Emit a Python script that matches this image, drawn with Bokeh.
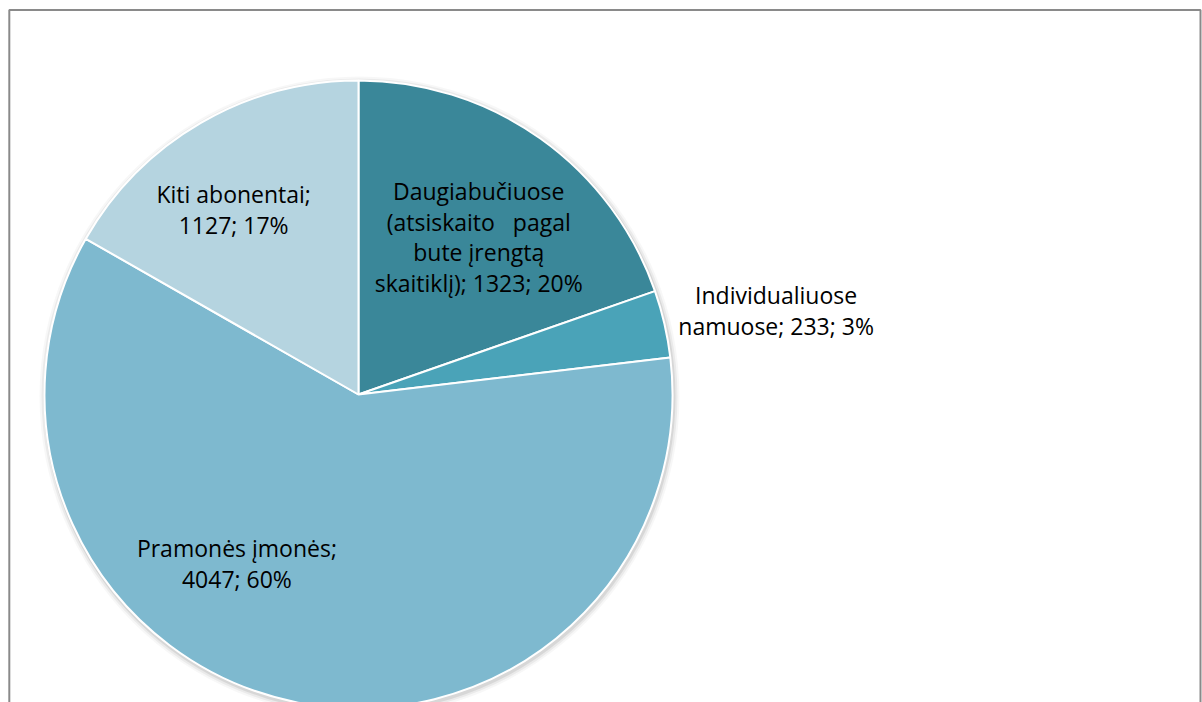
import math
from bokeh.plotting import figure
from bokeh.models import Range1d, ColumnDataSource
from bokeh.core.properties import value
from bokeh.embed import file_html
from bokeh.resources import INLINE

# ---- data ----
categories = ["Daugiabučiuose\n(atsiskaito\u00a0\u00a0\u00a0pagal\nbute įrengtą\nskaitiklį)",
              "Individualiuose\nnamuose",
              "Pramonės įmonės",
              "Kiti abonentai"]
values = [1323, 233, 4047, 1127]
colors = ["#3A8799", "#4AA3B8", "#7EB9CF", "#B5D4E0"]

# ---- layout (label placement, not data) ----
label_sep = [" ", " ", "\n", "\n"]
label_angle_shift = [2.0, 1.6, 24.3, -3.9]   # degrees
label_radius = [198, 426, 208, 223]           # px

W, H = 1202, 702
cx, cy, R = 358, 308, 314

p = figure(width=W, height=H, x_range=Range1d(0, W), y_range=Range1d(0, H),
           output_backend="svg", toolbar_location=None, min_border=0,
           x_axis_type=None, y_axis_type=None)
p.grid.visible = False
p.outline_line_color = None
p.background_fill_color = "white"
p.border_fill_color = "white"

total = sum(values)
fr = [v / total for v in values]
cum = [0.0]
for f in fr:
    cum.append(cum[-1] + f)
start = [math.pi / 2 - 2 * math.pi * cum[i] for i in range(len(values))]
end = [math.pi / 2 - 2 * math.pi * cum[i + 1] for i in range(len(values))]

# soft shadow
for rr, a in [(320, 0.03), (318, 0.05), (316, 0.08)]:
    p.circle(x=[cx + 1], y=[cy - 2], radius=rr, fill_color="black", fill_alpha=a,
             line_color=None)

src = ColumnDataSource(dict(start=start, end=end, color=colors))
p.wedge(x=cx, y=cy, radius=R, start_angle="start", end_angle="end",
        direction="clock", fill_color="color", line_color="white",
        line_width=2, source=src)

# labels
lx, ly, lt = [], [], []
lh = 30.5
for i, (c, v) in enumerate(zip(categories, values)):
    pct = round(100 * v / total)
    label = f"{c};{label_sep[i]}{v}; {pct}%"
    lines = label.split("\n")
    mid = (cum[i] + cum[i + 1]) / 2 * 360 + label_angle_shift[i]
    a = math.radians(mid)
    bx = cx + label_radius[i] * math.sin(a)
    by = cy + label_radius[i] * math.cos(a)
    n = len(lines)
    for j, t in enumerate(lines):
        lx.append(bx)
        ly.append(by + (n - 1) / 2 * lh - j * lh)
        lt.append(t)

p.text(x=lx, y=ly, text=lt, text_align="center", text_baseline="middle",
       text_font=value("Open Sans"), text_font_size="23px", text_color="black")

# chart frame (bottom edge lies below the visible area)
p.multi_line(xs=[[8.8, 8.8, 1200, 1200]], ys=[[-50, 692.5, 692.5, -50]],
             line_color="#8A8A8A", line_width=2)

open("out.html", "w").write(file_html(p, INLINE))
